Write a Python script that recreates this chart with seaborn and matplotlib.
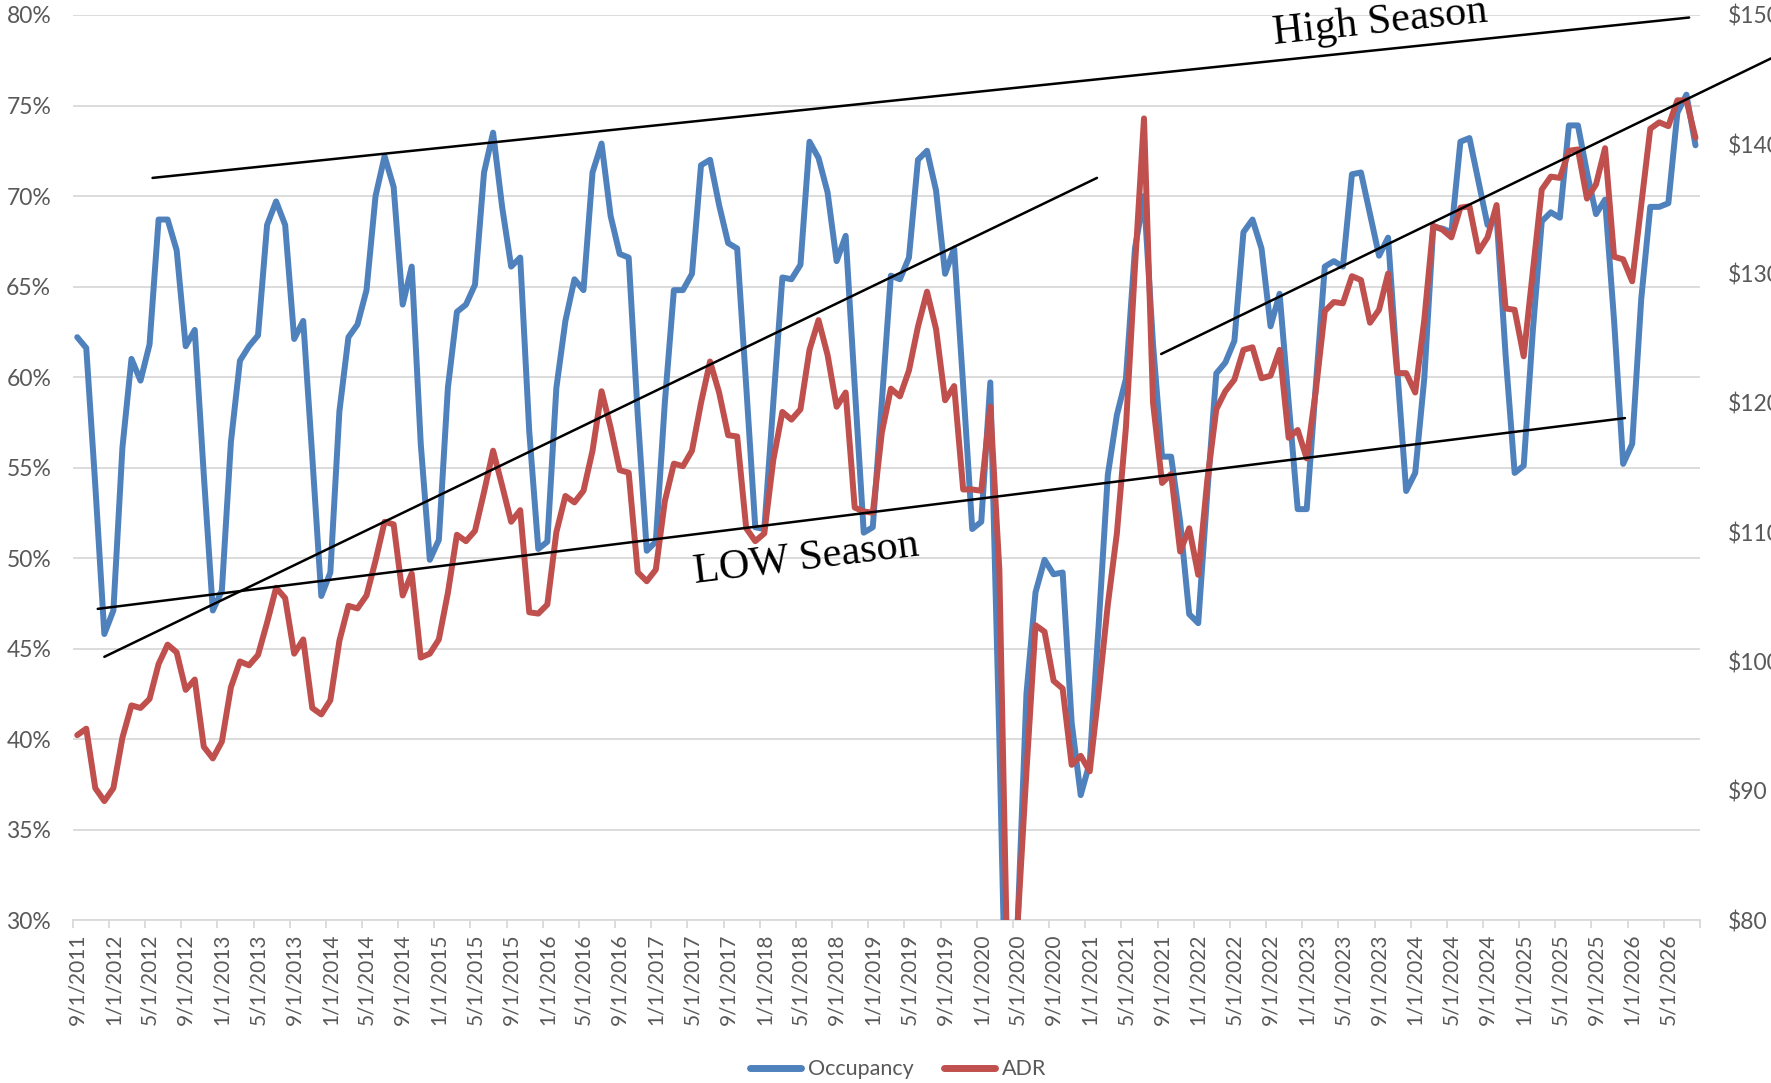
import numpy as np
import pandas as pd
import matplotlib
matplotlib.use('Agg')
import matplotlib.pyplot as plt
from matplotlib.lines import Line2D
from matplotlib.ticker import FixedLocator, FuncFormatter
import seaborn as sns

# ---------------- data ----------------
months = pd.date_range('2011-09-01', periods=180, freq='MS')
month_labels = [f"{d.month}/{d.day}/{d.year}" for d in months]

occupancy = [
    62.2, 61.6, 54.0, 45.8, 47.1, 56.1, 61.0, 59.8, 61.8, 68.7, 68.7, 67.0,
    61.7, 62.6, 54.6, 47.1, 48.2, 56.4, 60.9, 61.7, 62.3, 68.4, 69.7, 68.4,
    62.1, 63.1, 55.6, 47.9, 49.2, 58.1, 62.2, 62.9, 64.8, 70.0, 72.2, 70.5,
    64.0, 66.1, 56.3, 49.9, 51.0, 59.4, 63.6, 64.0, 65.1, 71.3, 73.5, 69.4,
    66.1, 66.6, 57.0, 50.5, 50.9, 59.4, 63.1, 65.4, 64.8, 71.3, 72.9, 68.9,
    66.8, 66.6, 57.9, 50.4, 50.9, 58.6, 64.8, 64.8, 65.7, 71.7, 72.0, 69.5,
    67.4, 67.1, 59.5, 51.7, 51.6, 58.6, 65.5, 65.4, 66.2, 73.0, 72.1, 70.2,
    66.4, 67.8, 59.5, 51.4, 51.7, 58.6, 65.6, 65.4, 66.6, 72.0, 72.5, 70.3,
    65.7, 67.1, 59.5, 51.6, 52.0, 59.7, 40.0, 18.0, 29.5, 42.5, 48.1, 49.9,
    49.1, 49.2, 40.9, 36.9, 38.7, 46.4, 54.6, 57.9, 59.9, 67.1, 70.0, 61.8,
    55.6, 55.6, 52.0, 46.9, 46.4, 53.6, 60.2, 60.8, 62.0, 68.0, 68.7, 67.1,
    62.8, 64.6, 58.6, 52.7, 52.7, 59.5, 66.1, 66.4, 66.1, 71.2, 71.3, 69.0,
    66.7, 67.7, 60.5, 53.7, 54.7, 59.9, 68.3, 68.2, 68.0, 73.0, 73.2, 70.8,
    68.4, 68.9, 61.2, 54.7, 55.1, 62.5, 68.6, 69.1, 68.8, 73.9, 73.9, 71.3,
    69.0, 69.8, 63.1, 55.2, 56.3, 64.3, 69.4, 69.4, 69.6, 74.6, 75.6, 72.8,
]

adr = [
    94.3, 94.8, 90.2, 89.2, 90.2, 94.1, 96.6, 96.4, 97.1, 99.8, 101.3, 100.7,
    97.8, 98.6, 93.4, 92.5, 93.8, 98.0, 100.0, 99.7, 100.5, 103.0, 105.7, 104.9,
    100.6, 101.7, 96.4, 95.9, 97.0, 101.6, 104.3, 104.1, 105.1, 107.8, 110.8, 110.6,
    105.1, 106.8, 100.3, 100.6, 101.7, 105.3, 109.8, 109.3, 110.1, 113.1, 116.3, 113.6,
    110.8, 111.7, 103.8, 103.7, 104.4, 110.0, 112.8, 112.3, 113.2, 116.3, 120.9, 118.1,
    114.8, 114.6, 106.9, 106.2, 107.1, 112.4, 115.3, 115.1, 116.3, 120.0, 123.2, 120.8,
    117.5, 117.4, 110.3, 109.3, 109.9, 115.6, 119.3, 118.7, 119.5, 124.1, 126.4, 123.7,
    119.7, 120.8, 111.9, 111.6, 111.5, 117.7, 121.1, 120.5, 122.5, 125.9, 128.6, 125.7,
    120.2, 121.3, 113.3, 113.3, 113.2, 119.7, 107.1, 72.0, 79.5, 91.5, 102.8, 102.3,
    98.5, 97.9, 92.0, 92.7, 91.5, 97.7, 104.4, 109.9, 118.1, 130.5, 142.0, 120.0,
    113.8, 114.5, 108.5, 110.3, 106.7, 114.0, 119.5, 120.9, 121.8, 124.1, 124.3, 121.9,
    122.1, 124.1, 117.3, 117.9, 115.7, 120.9, 127.1, 127.8, 127.7, 129.8, 129.5, 126.2,
    127.2, 130.0, 122.3, 122.3, 120.8, 126.4, 133.7, 133.4, 132.8, 135.1, 135.2, 131.7,
    132.8, 135.3, 127.3, 127.2, 123.6, 130.1, 136.5, 137.5, 137.4, 139.5, 139.6, 135.8,
    136.9, 139.7, 131.3, 131.1, 129.4, 135.3, 141.2, 141.7, 141.4, 143.4, 143.4, 140.5,
]

occ_ticks = [30, 35, 40, 45, 50, 55, 60, 65, 70, 75, 80]
adr_ticks = [80, 90, 100, 110, 120, 130, 140, 150]

# hand-drawn trend lines (month index, occupancy %)
trend_lines = [
    ((8.33, 71.0), (178.3, 79.86)),
    ((3.0, 44.54), (112.8, 71.0)),
    ((2.27, 47.19), (171.2, 57.73)),
    ((119.9, 61.27), (189.0, 78.0)),
]

# ---------------- style ----------------
sns.set_theme(style='white')
plt.rcParams['font.family'] = ['Lato', 'DejaVu Sans']

BLUE = '#4F81BD'
RED = '#C0504D'
GRID = '#D9D9D9'
TXT = '#595959'
LW = 4.3

fig = plt.figure(figsize=(17.71, 10.83), dpi=100)
ax = fig.add_axes([0.04105, 0.1505, 0.91885, 0.83565])

df = pd.DataFrame({'idx': np.arange(len(occupancy)), 'Occupancy': occupancy, 'ADR': adr})

sns.lineplot(data=df, x='idx', y='Occupancy', ax=ax, color=BLUE, lw=LW,
             legend=False, solid_joinstyle='round', solid_capstyle='round', zorder=3)
ax2 = ax.twinx()
sns.lineplot(data=df, x='idx', y='ADR', ax=ax2, color=RED, lw=LW,
             legend=False, solid_joinstyle='round', solid_capstyle='round', zorder=3)

ax.set_xlim(-0.5, len(occupancy) - 0.5)
ax.set_ylim(30, 80)
ax2.set_ylim(80, 150)
for a in (ax, ax2):
    a.set_xlabel('')
    a.set_ylabel('')
    for s in a.spines.values():
        s.set_visible(False)

ax.spines['bottom'].set_visible(True)
ax.spines['bottom'].set_color(GRID)
ax.spines['bottom'].set_linewidth(1.3)

ax.set_axisbelow(True)
ax.yaxis.grid(True, color=GRID, lw=1.3)
ax.xaxis.grid(False)

# x ticks
label_pos = list(range(0, len(month_labels), 4))
ax.xaxis.set_major_locator(FixedLocator(label_pos))
ax.set_xticklabels([month_labels[i] for i in label_pos])
ax.xaxis.set_minor_locator(FixedLocator(np.arange(-0.5, len(month_labels), 4)))
ax.tick_params(axis='x', which='major', length=0, pad=10, labelsize=15,
               labelcolor=TXT, rotation=90, bottom=True)
ax.tick_params(axis='x', which='minor', length=6, width=1.3, color=GRID,
               direction='out', bottom=True)

# y ticks
ax.yaxis.set_major_locator(FixedLocator(occ_ticks))
ax.yaxis.set_major_formatter(FuncFormatter(lambda v, p: f"{v:.0f}%"))
ax.tick_params(axis='y', length=0, pad=15.5, labelsize=16.5, labelcolor=TXT, left=True)
ax2.yaxis.set_major_locator(FixedLocator(adr_ticks))
ax2.yaxis.set_major_formatter(FuncFormatter(lambda v, p: f"${v:.0f}"))
ax2.tick_params(axis='y', length=0, pad=20, labelsize=16.5, labelcolor=TXT, right=True)

# trend lines
for (x0, y0), (x1, y1) in trend_lines:
    ax2.plot([x0, x1], [y0, y1], color='black', lw=1.8, transform=ax.transData,
             clip_on=False, zorder=10)

fig.text(0.7792, 0.9795, 'High Season', family='Liberation Serif', fontsize=30.5,
         rotation=6, rotation_mode='anchor', ha='center', va='center', color='black')
fig.text(0.4551, 0.4845, 'LOW Season', family='Liberation Serif', fontsize=30.5,
         rotation=7, rotation_mode='anchor', ha='center', va='center', color='black')

handles = [Line2D([0], [0], color=BLUE, lw=5, solid_capstyle='round'),
           Line2D([0], [0], color=RED, lw=5, solid_capstyle='round')]
leg = fig.legend(handles, ['Occupancy', 'ADR'], loc='center', bbox_to_anchor=(0.507, 0.0125),
                 ncol=2, frameon=False, fontsize=15.5, handlelength=2.4,
                 handletextpad=0.3, columnspacing=1.4)
for t in leg.get_texts():
    t.set_color(TXT)

fig.savefig('out.png', dpi=100)
